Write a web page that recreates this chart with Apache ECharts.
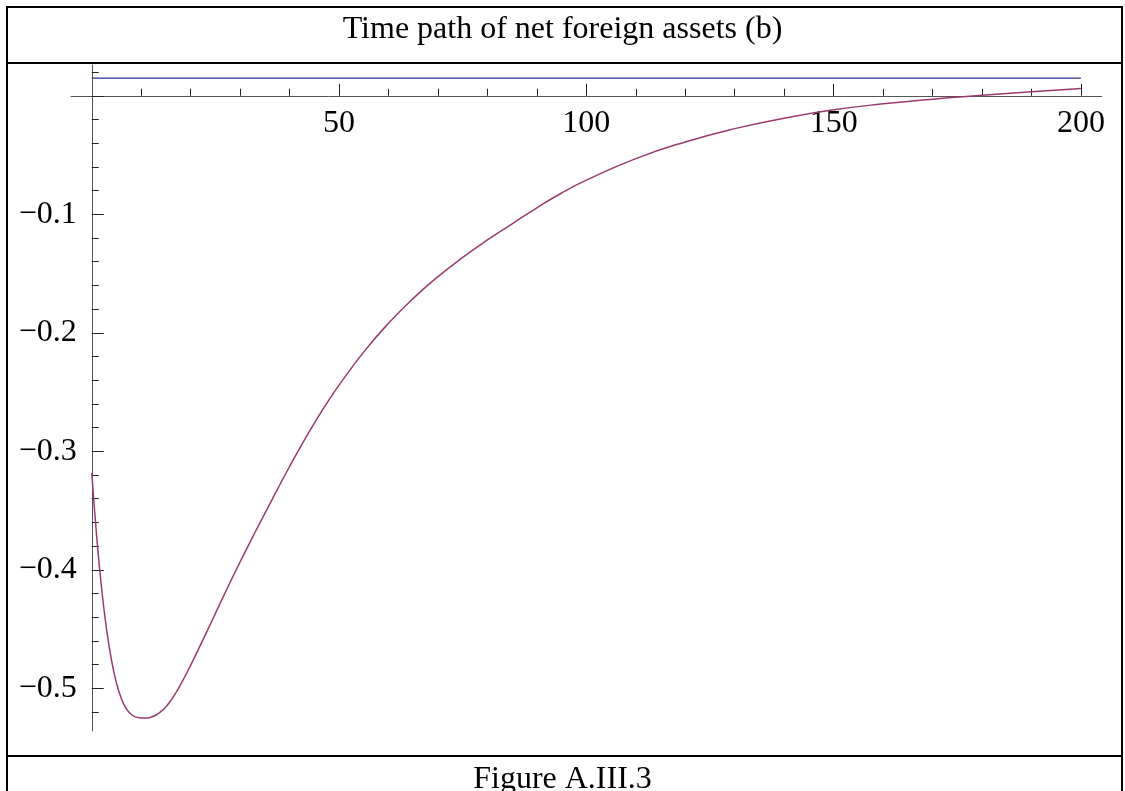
<!DOCTYPE html>
<html><head><meta charset="utf-8">
<script src="https://cdn.jsdelivr.net/npm/echarts@6/dist/echarts.min.js"></script>
<style>html,body{margin:0;padding:0;background:#fff}#c{width:1125px;height:791px}</style>
</head><body><div id="c"></div>
<script>
const titleText = 'Time path of net foreign assets (b)';
const captionText = 'Figure A.III.3';

const timeT = [0,1,2,3,4,5,6,7,8,9,10,11,12,13,14,15,16,17,18,19,20,22,24,26,28,30,32,34,36,38,40,42,44,46,48,50,55,60,65,70,75,80,85,90,95,100,110,120,130,140,150,160,170,180,190,200];
const assetsB = [-0.3180,-0.3723,-0.4160,-0.4504,-0.4765,-0.4956,-0.5088,-0.5173,-0.5221,-0.5243,-0.5250,-0.5251,-0.5243,-0.5225,-0.5195,-0.5155,-0.5102,-0.5038,-0.4965,-0.4887,-0.4804,
  -0.4633,-0.4457,-0.4279,-0.4103,-0.3932,-0.3766,-0.3604,-0.3443,-0.3284,-0.3128,-0.2977,-0.2832,-0.2694,-0.2564,-0.2441,
  -0.2161,-0.1919,-0.1709,-0.1526,-0.1364,-0.1216,-0.1080,-0.0945,-0.0820,-0.0712,
  -0.0530,-0.0389,-0.0277,-0.0189,-0.0118,-0.0068,-0.0028,0.0004,0.0035,0.0062];

const steadyT = [0, 200];
const steadyLevel = [0.015, 0.015];

const xMajorTicks = [50, 100, 150, 200];
const xTickLabels = ['50', '100', '150', '200'];
const xMinorTicks = [10,20,30,40,60,70,80,90,110,120,130,140,160,170,180,190];
const yMajorTicks = [-0.5, -0.4, -0.3, -0.2, -0.1, 0];
const yTickLabels = ['\u22120.5', '\u22120.4', '\u22120.3', '\u22120.2', '\u22120.1', ''];
const yMinorTicks = [0.02,-0.02,-0.04,-0.06,-0.08,-0.12,-0.14,-0.16,-0.18,-0.22,-0.24,-0.26,-0.28,-0.32,-0.34,-0.36,-0.38,-0.42,-0.44,-0.46,-0.48,-0.52];

const FONT = "'Liberation Serif','Times New Roman',serif";
const axisColor = '#555';
const tickColor = '#222';

const chart = echarts.init(document.getElementById('c'), null, {renderer: 'canvas'});

const curveData = timeT.map((t, i) => [t, assetsB[i]]);
const steadyData = steadyT.map((t, i) => [t, steadyLevel[i]]);

function findLabel(v, ticks, labels) {
  for (let i = 0; i < ticks.length; i++) if (Math.abs(ticks[i] - v) < 1e-9) return labels[i];
  return '';
}

const option = {
  animation: false,
  backgroundColor: '#fff',
  title: [
    {text: titleText, left: 'center', top: 14, padding: 0,
     textStyle: {fontSize: 32, fontWeight: 'normal', fontFamily: FONT, color: '#000'}},
    {text: captionText, left: 'center', top: 764, padding: 0,
     textStyle: {fontSize: 32, fontWeight: 'normal', fontFamily: FONT, color: '#000'}}
  ],
  graphic: [
    {type: 'rect', shape: {x: 7, y: 7, width: 1115, height: 820}, style: {fill: 'none', stroke: '#000', lineWidth: 2}},
    {type: 'line', shape: {x1: 7, y1: 63, x2: 1122, y2: 63}, style: {stroke: '#000', lineWidth: 2}},
    {type: 'line', shape: {x1: 7, y1: 756, x2: 1122, y2: 756}, style: {stroke: '#000', lineWidth: 2}}
  ],
  grid: {left: 71, right: 23.3, top: 65, bottom: 60, containLabel: false, outerBoundsMode: 'none'},
  xAxis: [
    {type: 'value', min: -4.2, max: 204.2, position: 'bottom',
     axisLine: {show: true, onZero: true, onZeroAxisIndex: 0, lineStyle: {color: axisColor, width: 1}},
     axisTick: {show: true, inside: true, length: 12, customValues: xMajorTicks, lineStyle: {color: tickColor, width: 1}},
     axisLabel: {show: true, customValues: xMajorTicks, margin: -623, fontSize: 32, fontFamily: FONT, color: '#000',
                 formatter: v => findLabel(v, xMajorTicks, xTickLabels)},
     splitLine: {show: false}},
    {type: 'value', min: -4.2, max: 204.2, position: 'bottom',
     axisLine: {show: false, onZero: true, onZeroAxisIndex: 0},
     axisTick: {show: true, inside: true, length: 7, customValues: xMinorTicks, lineStyle: {color: tickColor, width: 1}},
     axisLabel: {show: false},
     splitLine: {show: false}}
  ],
  yAxis: [
    {type: 'value', min: -0.536, max: 0.026, position: 'left',
     axisLine: {show: true, onZero: true, onZeroAxisIndex: 0, lineStyle: {color: axisColor, width: 1}},
     axisTick: {show: true, inside: true, length: 12, customValues: yMajorTicks, lineStyle: {color: tickColor, width: 1}},
     axisLabel: {show: true, customValues: yMajorTicks, margin: -5.7, fontSize: 32, fontFamily: FONT, color: '#000',
                 formatter: v => findLabel(v, yMajorTicks, yTickLabels)},
     splitLine: {show: false}},
    {type: 'value', min: -0.536, max: 0.026, position: 'left',
     axisLine: {show: false, onZero: true, onZeroAxisIndex: 0},
     axisTick: {show: true, inside: true, length: 7, customValues: yMinorTicks, lineStyle: {color: tickColor, width: 1}},
     axisLabel: {show: false},
     splitLine: {show: false}}
  ],
  series: [
    {type: 'line', name: 'steady', data: steadyData, xAxisIndex: 0, yAxisIndex: 0,
     showSymbol: false, symbol: 'none', lineStyle: {color: '#2e2e9a', width: 1.2}},
    {type: 'line', name: 'b', data: curveData, xAxisIndex: 0, yAxisIndex: 0,
     showSymbol: false, symbol: 'none', smooth: 0.5, lineStyle: {color: '#9a3b6f', width: 1.5}}
  ]
};
chart.setOption(option);
</script>
</body></html>
